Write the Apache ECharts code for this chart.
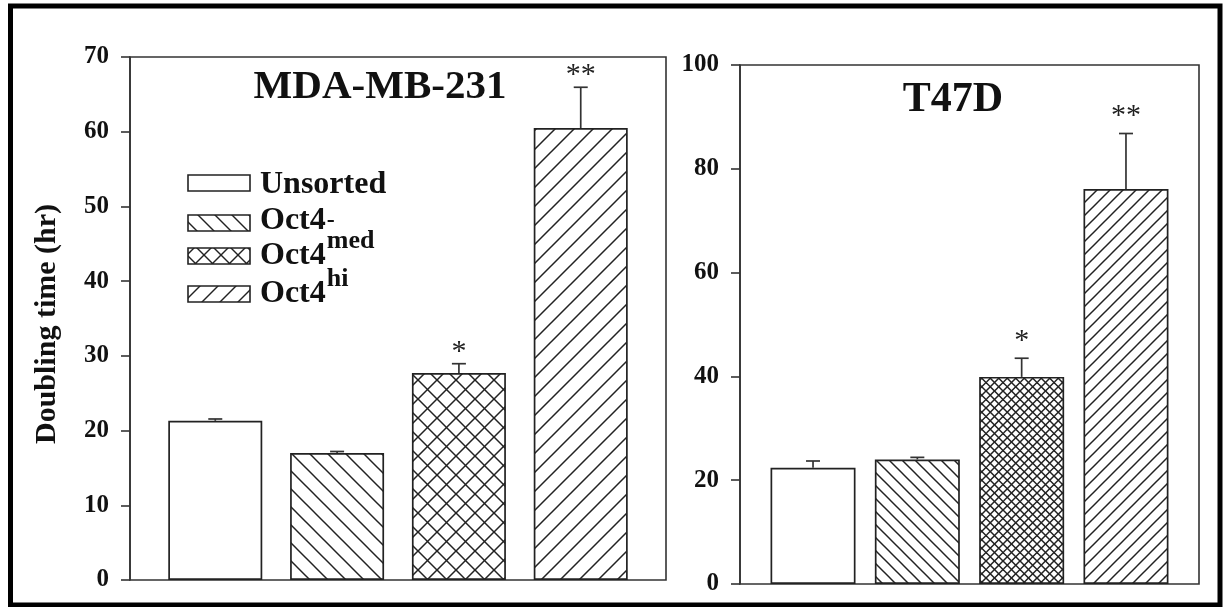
<!DOCTYPE html>
<html>
<head>
<meta charset="utf-8">
<script src="https://cdn.jsdelivr.net/npm/echarts@6/dist/echarts.min.js"></script>
<style>
html,body{margin:0;padding:0;background:#fff;}
#chart{width:1223px;height:607px;}
</style>
</head>
<body>
<div id="chart"></div>
<script>
// ---- data ----
const groups = ['Unsorted', 'Oct4-', 'Oct4med', 'Oct4hi'];
const legendBase = ['Unsorted', 'Oct4', 'Oct4', 'Oct4'];
const legendSup = ['', '-', 'med', 'hi'];
const mdaMean = [21.3, 17.0, 27.7, 60.5];
const mdaErr = [0.25, 0.2, 1.25, 5.45];
const t47dMean = [22.4, 24.0, 39.9, 76.1];
const t47dErr = [1.3, 0.4, 3.6, 10.7];
const significance = ['', '', '*', '**'];
const titles = ['MDA-MB-231', 'T47D'];
const yAxisTitle = 'Doubling time (hr)';
const mdaAxis = {min: 0, max: 70, interval: 10};
const t47dAxis = {min: 0, max: 100, interval: 20};

// ---- hatch patterns ----
function hatch(size, periods, kinds, lw) {
  const c = document.createElement('canvas');
  c.width = size; c.height = size;
  const ctx = c.getContext('2d');
  ctx.fillStyle = '#fff'; ctx.fillRect(0, 0, size, size);
  ctx.strokeStyle = '#222'; ctx.lineWidth = lw; ctx.lineCap = 'square';
  const p = size / periods;
  kinds.forEach(k => {
    for (let i = -periods - 1; i <= periods + 1; i++) {
      const o = i * p;
      ctx.beginPath();
      if (k === 'back') { ctx.moveTo(o, 0); ctx.lineTo(o + size, size); }
      else { ctx.moveTo(o + size, 0); ctx.lineTo(o, size); }
      ctx.stroke();
    }
  });
  return {image: c, repeat: 'repeat'};
}
function patternSet(pBack, pCross, pFwd, lw) {
  return [
    '#ffffff',
    hatch(pBack, 1, ['back'], lw),
    hatch(pCross[0], pCross[1], ['back', 'fwd'], lw),
    hatch(pFwd, 1, ['fwd'], lw)
  ];
}
const leftPatterns = patternSet(18, [19, 1], 19, 1.5);
const rightPatterns = patternSet(13, [17, 2], 13, 1.5);
const legendPatterns = patternSet(17, [17, 1], 18, 1.4);

const serif = '"Liberation Serif", "Times New Roman", serif';
const lineCol = '#333';

function barData(means, pats) {
  return means.map((v, i) => ({value: [i, v], itemStyle: {color: pats[i]}}));
}
function errData(means, errs) {
  return means.map((v, i) => [i, v, errs[i], i]);
}
function errSeries(idx, means, errs, starOffset) {
  return {
    type: 'custom', xAxisIndex: idx, yAxisIndex: idx, z: 5,
    data: errData(means, errs),
    renderItem: function (params, api) {
      const x = api.value(0), y = api.value(1), e = api.value(2);
      const base = api.coord([x, y]);
      const top = api.coord([x, y + e]);
      const children = [
        {type: 'line', shape: {x1: base[0], y1: base[1], x2: top[0], y2: top[1]},
         style: {stroke: lineCol, lineWidth: 1.7}},
        {type: 'line', shape: {x1: top[0] - 7, y1: top[1], x2: top[0] + 7, y2: top[1]},
         style: {stroke: lineCol, lineWidth: 1.7}}
      ];
      const s = significance[params.dataIndex];
      if (s) {
        children.push({type: 'text', style: {text: s, x: top[0], y: top[1] - starOffset,
          align: 'center', verticalAlign: 'middle',
          font: 'normal 30px ' + serif, fill: '#222'}});
      }
      return {type: 'group', children: children};
    }
  };
}
function yAxisDef(idx, ax) {
  return {
    type: 'value', gridIndex: idx, min: ax.min, max: ax.max, interval: ax.interval,
    axisLine: {show: true, onZero: false, lineStyle: {color: lineCol, width: 1.6}},
    axisTick: {show: true, inside: false, length: 9, lineStyle: {color: lineCol, width: 1.6}},
    axisLabel: {fontFamily: serif, fontWeight: 'bold', fontSize: 25, color: '#111', margin: 21},
    splitLine: {show: false}
  };
}
function xAxisDef(idx) {
  return {type: 'value', gridIndex: idx, min: -0.7, max: 3.7, show: false};
}

// legend graphic
const legendTops = [175, 215, 248, 286];
const legendTextY = [185, 221, 256, 294];
const legendSupDy = [0, 0, -15, -15];
const legendSupSize = [0, 24, 26, 26];
const baseFont = 'bold 32px ' + serif;
const measureCtx = document.createElement('canvas').getContext('2d');
measureCtx.font = baseFont;
const legendGraphics = [];
groups.forEach((g, i) => {
  const t = legendTops[i];
  legendGraphics.push({type: 'rect', shape: {x: 188, y: t, width: 62, height: 16},
    style: {fill: legendPatterns[i], stroke: '#222', lineWidth: 1.6}});
  legendGraphics.push({type: 'text', x: 260, y: legendTextY[i],
    style: {text: legendBase[i], font: baseFont, fill: '#111', align: 'left', verticalAlign: 'middle'}});
  if (legendSup[i]) {
    const w = measureCtx.measureText(legendBase[i]).width;
    legendGraphics.push({type: 'text', x: 260 + w + 1, y: legendTextY[i] + legendSupDy[i],
      style: {text: legendSup[i], font: 'bold ' + legendSupSize[i] + 'px ' + serif,
        fill: '#111', align: 'left', verticalAlign: 'middle'}});
  }
});

const chart = echarts.init(document.getElementById('chart'), null, {renderer: 'canvas'});
chart.setOption({
  animation: false,
  backgroundColor: '#fff',
  grid: [
    {left: 130, top: 57, width: 536, height: 523, show: true, borderColor: lineCol, borderWidth: 1.6},
    {left: 740, top: 65, width: 459, height: 519, show: true, borderColor: lineCol, borderWidth: 1.6}
  ],
  xAxis: [xAxisDef(0), xAxisDef(1)],
  yAxis: [yAxisDef(0, mdaAxis), yAxisDef(1, t47dAxis)],
  series: [
    {type: 'bar', xAxisIndex: 0, yAxisIndex: 0, barWidth: 94,
     itemStyle: {borderColor: '#222', borderWidth: 1.7},
     data: barData(mdaMean, leftPatterns)},
    {type: 'bar', xAxisIndex: 1, yAxisIndex: 1, barWidth: 85,
     itemStyle: {borderColor: '#222', borderWidth: 1.7},
     data: barData(t47dMean, rightPatterns)},
    errSeries(0, mdaMean, mdaErr, 12),
    errSeries(1, t47dMean, t47dErr, 17)
  ],
  graphic: [
    {type: 'rect', shape: {x: 10.5, y: 6, width: 1209.5, height: 599},
     style: {fill: 'none', stroke: '#000', lineWidth: 5}, z: 100},
    {type: 'text', x: 380, y: 87,
     style: {text: titles[0], font: 'bold 41px ' + serif, fill: '#111', align: 'center', verticalAlign: 'middle'}},
    {type: 'text', x: 953, y: 100,
     style: {text: titles[1], font: 'bold 42px ' + serif, fill: '#111', align: 'center', verticalAlign: 'middle'}},
    {type: 'text', x: 47, y: 324, rotation: Math.PI / 2,
     style: {text: yAxisTitle, font: 'bold 30px ' + serif, fill: '#111', align: 'center', verticalAlign: 'middle'}}
  ].concat(legendGraphics)
});
</script>
</body>
</html>
